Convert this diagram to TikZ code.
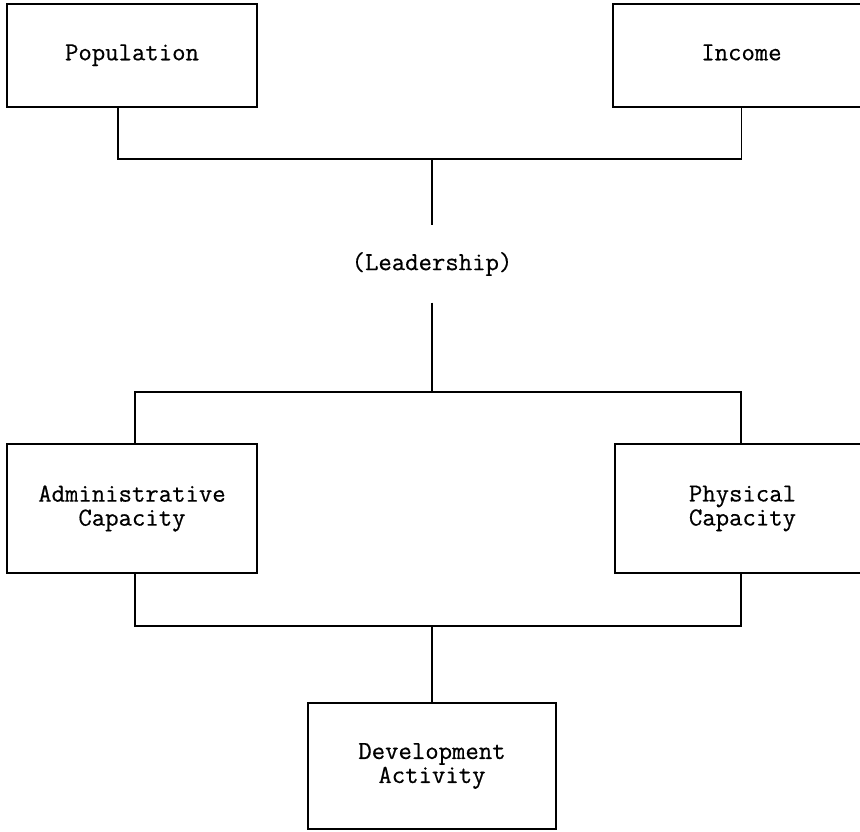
\documentclass[tikz,border=0pt]{standalone}
\usepackage{fontspec}
\newfontfamily\diagfont[FakeBold=0.5]{Latin Modern Mono}
\begin{document}
\begin{tikzpicture}[x=1pt,y=-1pt,
  box/.style={draw,line width=1.8pt,inner sep=0pt,align=center,font=\diagfont\fontsize{26}{24}\selectfont},
  lbl/.style={inner sep=0pt,align=center,font=\diagfont\fontsize{26}{24}\selectfont},
  conn/.style={line width=1.8pt}]
\useasboundingbox (0,0) rectangle (860,832);
\node[box,minimum width=250pt,minimum height=103pt] (pop) at (132,55.5) {\strut Population};
\node[box,minimum width=257pt,minimum height=103pt] (inc) at (741.5,55.5) {\strut Income};
\node[lbl,minimum height=77pt] (lead) at (432,264) {(Leadership)};
\node[box,minimum width=250pt,minimum height=129pt] (adm) at (132,508.5) {Administrative\\Capacity};
\node[box,minimum width=255pt,minimum height=129pt] (phy) at (742.5,508.5) {Physical\\Capacity};
\node[box,minimum width=248pt,minimum height=126pt] (dev) at (432,766) {Development\\Activity};
\coordinate (jt) at (432,159);
\coordinate (jb) at (432,392);
\coordinate (jl) at (432,626);
\draw[conn] ([xshift=-14pt]pop.south) |- (jt) -| (inc.south);
\draw[conn] (jt) -- (lead.north);
\draw[conn] (lead.south) -- (jb);
\draw[conn] ([xshift=3pt]adm.north) |- (jb) -| ([xshift=-1.5pt]phy.north);
\draw[conn] ([xshift=3pt]adm.south) |- (jl) -| ([xshift=-1.5pt]phy.south);
\draw[conn] (jl) -- (dev.north);
\end{tikzpicture}
\end{document}
